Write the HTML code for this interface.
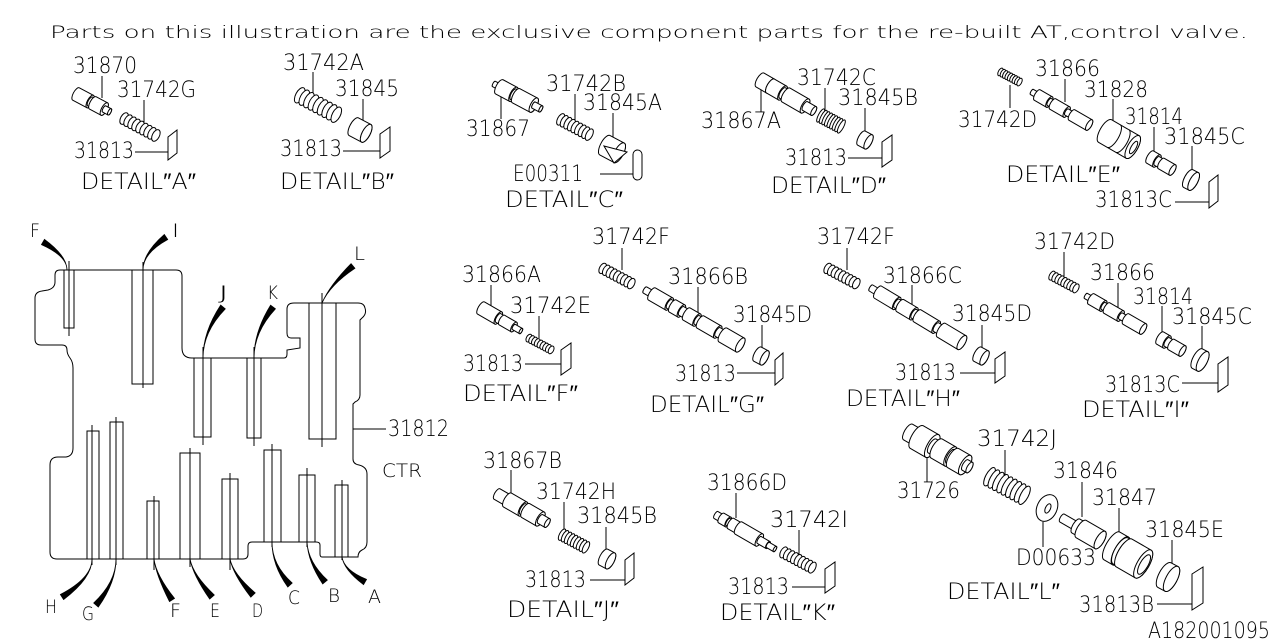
<!DOCTYPE html>
<html><head><meta charset="utf-8"><style>
html,body{margin:0;padding:0;background:#fff;}
svg{display:block;}
.p path,.p ellipse,.p rect{fill:#fff;stroke:#000;stroke-width:1;}
.ln{fill:none;stroke:#000;stroke-width:1;}
.t{font-family:"DejaVu Sans","Liberation Sans",sans-serif;font-weight:200;font-size:22px;fill:#000;}
.s{font-size:19px;}
.h{font-size:17px;}
.spr ellipse{fill:#fff;stroke:#000;stroke-width:1;vector-effect:non-scaling-stroke;}
</style></head><body>
<svg width="1280" height="640" viewBox="0 0 1280 640" xmlns="http://www.w3.org/2000/svg">
<defs>
<g id="spr" class="spr">
<ellipse cx="-18" cy="0" rx="3.5" ry="7"/><ellipse cx="-13.5" cy="0" rx="3.5" ry="7"/><ellipse cx="-9" cy="0" rx="3.5" ry="7"/><ellipse cx="-4.5" cy="0" rx="3.5" ry="7"/><ellipse cx="0" cy="0" rx="3.5" ry="7"/><ellipse cx="4.5" cy="0" rx="3.5" ry="7"/><ellipse cx="9" cy="0" rx="3.5" ry="7"/><ellipse cx="13.5" cy="0" rx="3.5" ry="7"/><ellipse cx="18" cy="0" rx="3.5" ry="7"/>
</g>
</defs>
<rect width="1280" height="640" fill="#fff"/>

<!-- header -->
<text class="t h" x="50" y="38" textLength="1198" lengthAdjust="spacingAndGlyphs">Parts on this illustration are the exclusive component parts for the re-built AT,control valve.</text>

<!-- ===== body ===== -->
<path class="ln" d="M60,270 L176,270 Q182,270 182,276 L182,348 Q182,358 192,358 L284,358 Q287,358 287,354 L287,350 L300,348 L300,338 L291,338 Q287,338 287,333 L287,309 Q287,303 294,303 L358,303 Q364,303 365,308 Q367,314 362,318 L360,320 L360,395 Q360,400 355,402 L353,404 L353,459 Q353,464 359,465 Q367,467 367,474 L367,542 Q367,548 362,550 Q358,552 358,557 L322,557 Q320,557 320,554 L320,545 Q320,542 316,542 L252,542 Q248,542 248,546 L248,554 Q248,559 243,559 L57,559 Q50,559 50,552 L50,465 Q50,457 58,457 L66,457 Q73,456 73,448 L73,368 Q73,362 70,358 Q67,354 67,350 Q67,345 62,345 L41,345 Q35,345 35,339 L35,298 Q35,292 42,291 L48,290 Q55,288 55,282 L55,275 Q55,270 60,270 Z"/>
<g class="ln">
<rect x="64" y="270" width="10" height="58"/><path d="M69,261V336"/>
<rect x="132" y="270" width="21" height="114"/><path d="M143,262V388"/>
<rect x="194" y="358" width="17" height="79"/><path d="M203,347V445"/>
<rect x="247" y="358" width="14" height="80"/><path d="M254,347V446"/>
<rect x="309" y="303" width="27" height="136"/><path d="M322,293V447"/>
<rect x="87" y="431" width="12" height="128"/><path d="M92,425V565"/>
<rect x="110" y="422" width="13" height="137"/><path d="M116,417V565"/>
<rect x="147" y="501" width="12" height="58"/><path d="M154,496V570"/>
<rect x="180" y="453" width="20" height="106"/><path d="M190,448V567"/>
<rect x="222" y="479" width="16" height="80"/><path d="M230,473V570"/>
<rect x="264" y="450" width="17" height="92"/><path d="M272,444V547"/>
<rect x="299" y="475" width="16" height="67"/><path d="M307,468V547"/>
<rect x="335" y="485" width="13" height="72"/><path d="M342,480V560"/>
<path d="M353,429H386"/>
</g>
<!-- wedges -->
<g fill="#000" stroke="#000" stroke-width="0.8">
<path d="M67,270 Q67,256 44.5,239.4 L41.5,244.6 Q67,256 67,270Z"/>
<path d="M143,270 Q143,253 167.7,239.5 L164.3,234.5 Q143,253 143,270Z"/>
<path d="M203,358 Q203,332 225.3,308.9 L220.7,305.1 Q203,332 203,358Z"/>
<path d="M254,358 Q254,332 275.4,308.8 L270.6,305.2 Q254,332 254,358Z"/>
<path d="M322,303 Q330,285 354.9,268.3 L351.1,263.7 Q330,285 322,303Z"/>
<path d="M92,559 Q92,578 63.6,599.5 L60.4,594.5 Q92,578 92,559Z"/>
<path d="M116,559 Q116,582 98.3,607 L93.7,603 Q116,582 116,559Z"/>
<path d="M154,559 Q156,575 174.5,598.4 L169.5,601.6 Q156,575 154,559Z"/>
<path d="M190,559 Q193,575 214.3,595 L209.7,599 Q193,575 190,559Z"/>
<path d="M230,559 Q233,574 255.2,592.9 L250.8,597.1 Q233,574 230,559Z"/>
<path d="M272,542 Q272,565 292.2,583 L287.8,587 Q272,565 272,542Z"/>
<path d="M307,542 Q308,562 327.3,580.1 L322.7,583.9 Q308,562 307,542Z"/>
<path d="M342,557 Q344,570 366.5,579.4 L363.5,584.6 Q344,570 342,557Z"/>
</g>
<g class="t s">
<text x="30" y="237" textLength="10" lengthAdjust="spacingAndGlyphs">F</text>
<text x="172" y="237" textLength="7" lengthAdjust="spacingAndGlyphs">I</text>
<text x="218" y="299" textLength="11" lengthAdjust="spacingAndGlyphs">J</text>
<text x="267" y="299" textLength="11" lengthAdjust="spacingAndGlyphs">K</text>
<text x="354" y="260" textLength="11" lengthAdjust="spacingAndGlyphs">L</text>
<text x="45" y="613" textLength="12" lengthAdjust="spacingAndGlyphs">H</text>
<text x="82" y="620" textLength="12" lengthAdjust="spacingAndGlyphs">G</text>
<text x="170" y="617" textLength="11" lengthAdjust="spacingAndGlyphs">F</text>
<text x="210" y="617" textLength="10" lengthAdjust="spacingAndGlyphs">E</text>
<text x="252" y="617" textLength="11" lengthAdjust="spacingAndGlyphs">D</text>
<text x="288" y="604" textLength="12" lengthAdjust="spacingAndGlyphs">C</text>
<text x="328" y="602" textLength="12" lengthAdjust="spacingAndGlyphs">B</text>
<text x="368" y="603" textLength="13" lengthAdjust="spacingAndGlyphs">A</text>
</g>
<text class="t" x="388" y="436" textLength="61" lengthAdjust="spacingAndGlyphs">31812</text>
<text class="t s" x="382" y="477" textLength="40" lengthAdjust="spacingAndGlyphs">CTR</text>

<!-- ===== leader lines & clips ===== -->
<g class="ln">
<path d="M102,76V98 M144,100V128 M313,72V97 M363,99V120 M575,94V123 M613,113V137 M501,88V119 M761,87V112 M825,88V112 M865,108V132 M1010,85V108 M1065,79V102 M1113,99V123 M1154,127V152 M1192,146V170 M491,285V308 M539,316V338 M622,248V270 M698,287V317 M762,325V350 M847,248V270 M912,285V313 M982,325V350 M1064,252V277 M1118,283V310 M1162,306V334 M1202,326V352 M511,470V495 M564,502V530 M606,527V552 M736,493V518 M799,530V556 M1005,450V475 M927,455V482 M1043,522V547 M1082,482V517 M1119,508V535 M1172,540V563"/>
<path d="M135,152H168 M343,151H380 M848,158H882 M1175,202H1209 M525,364H561 M737,373H775 M960,373H995 M1182,383H1218 M590,580H625 M792,587H825 M1157,604H1192 M600,174H633"/>
</g>
<g class="p">
<path d="M168,137 L177,130 L177,153 L168,160 Z"/>
<path d="M380,134 L390,127 L390,151 L380,158 Z"/>
<path d="M882,142 L892,135 L892,160 L882,167 Z"/>
<path d="M1209,182 L1218,175 L1218,201 L1209,208 Z"/>
<path d="M561,350 L571,343 L571,368 L561,375 Z"/>
<path d="M775,360 L783,353 L783,378 L775,385 Z"/>
<path d="M995,359 L1005,352 L1005,376 L995,383 Z"/>
<path d="M1218,364 L1228,357 L1228,385 L1218,392 Z"/>
<path d="M625,560 L634,553 L634,578 L625,585 Z"/>
<path d="M825,569 L835,562 L835,586 L825,593 Z"/>
<path d="M1192,574 L1203,567 L1203,603 L1192,610 Z"/>
<rect x="633" y="150" width="9" height="30" rx="4.5"/>
</g>

<!-- ===== springs ===== -->
<use href="#spr" transform="translate(140,127) rotate(28) scale(1,0.9)"/>
<use href="#spr" transform="translate(318,105) rotate(28) scale(1.15,1.2)"/>
<use href="#spr" transform="translate(575,127) rotate(28) scale(0.9,0.9)"/>
<use href="#spr" transform="translate(831,121) rotate(28) scale(0.65,1.05)"/>
<use href="#spr" transform="translate(1010,77) rotate(28) scale(0.6,0.6)"/>
<use href="#spr" transform="translate(540,344) rotate(28) scale(0.7,0.6)"/>
<use href="#spr" transform="translate(617,276) rotate(28) scale(0.9,0.8)"/>
<use href="#spr" transform="translate(842,276) rotate(28) scale(0.9,0.8)"/>
<use href="#spr" transform="translate(1064,282) rotate(28) scale(0.75,0.7)"/>
<use href="#spr" transform="translate(574,541) rotate(28) scale(0.75,0.9)"/>
<use href="#spr" transform="translate(798,560) rotate(28) scale(0.9,0.85)"/>
<use href="#spr" transform="translate(1007,486) rotate(28) scale(1.1,1.45)"/>

<!-- ===== spools / parts ===== -->
<g class="p">
<!-- A 31870 -->
<g transform="translate(76,94) rotate(28)">
<path d="M0-7H16A2.8 7 0 0 1 16 7H0A2.8 7 0 0 1 0-7Z"/><ellipse cx="16" rx="2.8" ry="7"/>
<path d="M16-5H19A2 5 0 0 1 19 5H16A2 5 0 0 1 16-5Z"/><ellipse cx="19" rx="2" ry="5"/>
<path d="M19-7H32A2.8 7 0 0 1 32 7H19A2.8 7 0 0 1 19-7Z"/><ellipse cx="32" rx="2.8" ry="7"/>
<path d="M32-3.5H38A1.4 3.5 0 0 1 38 3.5H32A1.4 3.5 0 0 1 32-3.5Z"/><ellipse cx="38" rx="1.4" ry="3.5"/>
</g>
<!-- B 31845 -->
<g transform="translate(360,130) rotate(28)">
<path d="M-7-10H7A4 10 0 0 1 7 10H-7A4 10 0 0 1-7-10Z"/><ellipse cx="7" rx="4" ry="10"/>
</g>
<!-- C 31867 -->
<g transform="translate(494,84) rotate(28)">
<path d="M0-3H6A1.2 3 0 0 1 6 3H0A1.2 3 0 0 1 0-3Z"/><ellipse cx="6" rx="1.2" ry="3"/>
<path d="M6-8H22A3.2 8 0 0 1 22 8H6A3.2 8 0 0 1 6-8Z"/><ellipse cx="22" rx="3.2" ry="8"/>
<path d="M22-6H25A2.4 6 0 0 1 25 6H22A2.4 6 0 0 1 22-6Z"/><ellipse cx="25" rx="2.4" ry="6"/>
<path d="M25-8H45A3.2 8 0 0 1 45 8H25A3.2 8 0 0 1 25-8Z"/><ellipse cx="45" rx="3.2" ry="8"/>
<path d="M45-3.5H53A1.4 3.5 0 0 1 53 3.5H45A1.4 3.5 0 0 1 45-3.5Z"/><ellipse cx="53" rx="1.4" ry="3.5"/>
</g>
<!-- C 31845A -->
<g transform="translate(612,149) rotate(28)">
<path d="M-8-11H8A4.4 11 0 0 1 8 11H-8A4.4 11 0 0 1-8-11Z"/><ellipse cx="8" rx="4.4" ry="11"/>
</g>
<path d="M604,146 L627,152 L614,163 Z"/>
<!-- D 31867A -->
<g transform="translate(760,80) rotate(30)">
<path d="M0-8H12A3.2 8 0 0 1 12 8H0A3.2 8 0 0 1 0-8Z"/><ellipse cx="12" rx="3.2" ry="8"/>
<path d="M12-8H26A3.2 8 0 0 1 26 8H12A3.2 8 0 0 1 12-8Z"/><ellipse cx="26" rx="3.2" ry="8"/>
<path d="M26-6H30A2.4 6 0 0 1 30 6H26A2.4 6 0 0 1 26-6Z"/><ellipse cx="30" rx="2.4" ry="6"/>
<path d="M30-8H52A3.2 8 0 0 1 52 8H30A3.2 8 0 0 1 30-8Z"/><ellipse cx="52" rx="3.2" ry="8"/>
<path d="M52-5H62A2 5 0 0 1 62 5H52A2 5 0 0 1 52-5Z"/><ellipse cx="62" rx="2" ry="5"/>
</g>
<!-- D 31845B -->
<g transform="translate(865,140) rotate(28)">
<path d="M-4-8H4A3.2 8 0 0 1 4 8H-4A3.2 8 0 0 1-4-8Z"/><ellipse cx="4" rx="3.2" ry="8"/>
</g>
<!-- E 31866 -->
<g transform="translate(1032,92) rotate(30)">
<path d="M0-3H6A1.2 3 0 0 1 6 3H0A1.2 3 0 0 1 0-3Z"/><ellipse cx="6" rx="1.2" ry="3"/>
<path d="M6-6H20A2.4 6 0 0 1 20 6H6A2.4 6 0 0 1 6-6Z"/><ellipse cx="20" rx="2.4" ry="6"/>
<path d="M20-4H24A1.6 4 0 0 1 24 4H20A1.6 4 0 0 1 20-4Z"/><ellipse cx="24" rx="1.6" ry="4"/>
<path d="M24-6H40A2.4 6 0 0 1 40 6H24A2.4 6 0 0 1 24-6Z"/><ellipse cx="40" rx="2.4" ry="6"/>
<path d="M40-3.5H46A1.4 3.5 0 0 1 46 3.5H40A1.4 3.5 0 0 1 40-3.5Z"/><ellipse cx="46" rx="1.4" ry="3.5"/>
<path d="M46-6H66A2.4 6 0 0 1 66 6H46A2.4 6 0 0 1 46-6Z"/><ellipse cx="66" rx="2.4" ry="6"/>
</g>
<!-- E 31828 -->
<g transform="translate(1105,131) rotate(30)">
<path d="M0-13H32A5 13 0 0 1 32 13H0A5 13 0 0 1 0-13Z"/><ellipse cx="32" rx="5" ry="13"/>
<path class="ln" d="M10-13A5 13 0 0 1 10 13 M20-13A5 13 0 0 1 20 13"/>
<ellipse cx="33" rx="2.5" ry="7"/>
</g>
<!-- E 31814 -->
<g transform="translate(1150,157) rotate(30)">
<path d="M0-7H8A2.8 7 0 0 1 8 7H0A2.8 7 0 0 1 0-7Z"/><ellipse cx="8" rx="2.8" ry="7"/>
<path d="M8-5H13A2 5 0 0 1 13 5H8A2 5 0 0 1 8-5Z"/><ellipse cx="13" rx="2" ry="5"/>
<path d="M13-6H26A2.4 6 0 0 1 26 6H13A2.4 6 0 0 1 13-6Z"/><ellipse cx="26" rx="2.4" ry="6"/>
</g>
<!-- E 31845C -->
<g transform="translate(1191,180) rotate(28)">
<path d="M-3-10H3A4 10 0 0 1 3 10H-3A4 10 0 0 1-3-10Z"/><ellipse cx="3" rx="4" ry="10"/>
</g>
<!-- F 31866A -->
<g transform="translate(481,308) rotate(30)">
<path d="M0-7H20A2.8 7 0 0 1 20 7H0A2.8 7 0 0 1 0-7Z"/><ellipse cx="20" rx="2.8" ry="7"/>
<path d="M20-5H24A2 5 0 0 1 24 5H20A2 5 0 0 1 20-5Z"/><ellipse cx="24" rx="2" ry="5"/>
<path d="M24-5.5H38A2.2 5.5 0 0 1 38 5.5H24A2.2 5.5 0 0 1 24-5.5Z"/><ellipse cx="38" rx="2.2" ry="5.5"/>
<path d="M38-3H46A1.2 3 0 0 1 46 3H38A1.2 3 0 0 1 38-3Z"/><ellipse cx="46" rx="1.2" ry="3"/>
</g>
<!-- G 31866B -->
<g transform="translate(645,290) rotate(30)">
<path d="M0-3.5H8A1.4 3.5 0 0 1 8 3.5H0A1.4 3.5 0 0 1 0-3.5Z"/><ellipse cx="8" rx="1.4" ry="3.5"/>
<path d="M8-7H28A2.8 7 0 0 1 28 7H8A2.8 7 0 0 1 8-7Z"/><ellipse cx="28" rx="2.8" ry="7"/>
<path d="M28-5H32A2 5 0 0 1 32 5H28A2 5 0 0 1 28-5Z"/><ellipse cx="32" rx="2" ry="5"/>
<path d="M32-7H42A2.8 7 0 0 1 42 7H32A2.8 7 0 0 1 32-7Z"/><ellipse cx="42" rx="2.8" ry="7"/>
<path d="M42-5H48A2 5 0 0 1 48 5H42A2 5 0 0 1 42-5Z"/><ellipse cx="48" rx="2" ry="5"/>
<path d="M48-7H60A2.8 7 0 0 1 60 7H48A2.8 7 0 0 1 48-7Z"/><ellipse cx="60" rx="2.8" ry="7"/>
<path d="M60-5H64A2 5 0 0 1 64 5H60A2 5 0 0 1 60-5Z"/><ellipse cx="64" rx="2" ry="5"/>
<path d="M64-7H84A2.8 7 0 0 1 84 7H64A2.8 7 0 0 1 64-7Z"/><ellipse cx="84" rx="2.8" ry="7"/>
<path d="M84-5H90A2 5 0 0 1 90 5H84A2 5 0 0 1 84-5Z"/><ellipse cx="90" rx="2" ry="5"/>
<path d="M90-8H110A3.2 8 0 0 1 110 8H90A3.2 8 0 0 1 90-8Z"/><ellipse cx="110" rx="3.2" ry="8"/>
</g>
<g transform="translate(761,356) rotate(28)">
<path d="M-4-8H4A3.2 8 0 0 1 4 8H-4A3.2 8 0 0 1-4-8Z"/><ellipse cx="4" rx="3.2" ry="8"/>
</g>
<!-- H 31866C -->
<g transform="translate(871,288) rotate(31)">
<path d="M0-3.5H8A1.4 3.5 0 0 1 8 3.5H0A1.4 3.5 0 0 1 0-3.5Z"/><ellipse cx="8" rx="1.4" ry="3.5"/>
<path d="M8-7H30A2.8 7 0 0 1 30 7H8A2.8 7 0 0 1 8-7Z"/><ellipse cx="30" rx="2.8" ry="7"/>
<path d="M30-5H34A2 5 0 0 1 34 5H30A2 5 0 0 1 30-5Z"/><ellipse cx="34" rx="2" ry="5"/>
<path d="M34-7H50A2.8 7 0 0 1 50 7H34A2.8 7 0 0 1 34-7Z"/><ellipse cx="50" rx="2.8" ry="7"/>
<path d="M50-5H54A2 5 0 0 1 54 5H50A2 5 0 0 1 50-5Z"/><ellipse cx="54" rx="2" ry="5"/>
<path d="M54-7H76A2.8 7 0 0 1 76 7H54A2.8 7 0 0 1 54-7Z"/><ellipse cx="76" rx="2.8" ry="7"/>
<path d="M76-5H82A2 5 0 0 1 82 5H76A2 5 0 0 1 76-5Z"/><ellipse cx="82" rx="2" ry="5"/>
<path d="M82-8H106A3.2 8 0 0 1 106 8H82A3.2 8 0 0 1 82-8Z"/><ellipse cx="106" rx="3.2" ry="8"/>
</g>
<g transform="translate(981,356) rotate(28)">
<path d="M-4-8H4A3.2 8 0 0 1 4 8H-4A3.2 8 0 0 1-4-8Z"/><ellipse cx="4" rx="3.2" ry="8"/>
</g>
<!-- I 31866 -->
<g transform="translate(1086,296) rotate(30)">
<path d="M0-3H6A1.2 3 0 0 1 6 3H0A1.2 3 0 0 1 0-3Z"/><ellipse cx="6" rx="1.2" ry="3"/>
<path d="M6-6H20A2.4 6 0 0 1 20 6H6A2.4 6 0 0 1 6-6Z"/><ellipse cx="20" rx="2.4" ry="6"/>
<path d="M20-4H24A1.6 4 0 0 1 24 4H20A1.6 4 0 0 1 20-4Z"/><ellipse cx="24" rx="1.6" ry="4"/>
<path d="M24-6H40A2.4 6 0 0 1 40 6H24A2.4 6 0 0 1 24-6Z"/><ellipse cx="40" rx="2.4" ry="6"/>
<path d="M40-3.5H46A1.4 3.5 0 0 1 46 3.5H40A1.4 3.5 0 0 1 40-3.5Z"/><ellipse cx="46" rx="1.4" ry="3.5"/>
<path d="M46-6H66A2.4 6 0 0 1 66 6H46A2.4 6 0 0 1 46-6Z"/><ellipse cx="66" rx="2.4" ry="6"/>
</g>
<g transform="translate(1160,338) rotate(30)">
<path d="M0-7H8A2.8 7 0 0 1 8 7H0A2.8 7 0 0 1 0-7Z"/><ellipse cx="8" rx="2.8" ry="7"/>
<path d="M8-5H13A2 5 0 0 1 13 5H8A2 5 0 0 1 8-5Z"/><ellipse cx="13" rx="2" ry="5"/>
<path d="M13-6H26A2.4 6 0 0 1 26 6H13A2.4 6 0 0 1 13-6Z"/><ellipse cx="26" rx="2.4" ry="6"/>
</g>
<g transform="translate(1200,360) rotate(28)">
<path d="M-3-11H3A4.4 11 0 0 1 3 11H-3A4.4 11 0 0 1-3-11Z"/><ellipse cx="3" rx="4.4" ry="11"/>
</g>
<!-- J 31867B -->
<g transform="translate(497,494) rotate(30)">
<path d="M0-6H12A2.4 6 0 0 1 12 6H0A2.4 6 0 0 1 0-6Z"/><ellipse cx="12" rx="2.4" ry="6"/>
<path d="M12-8H30A3.2 8 0 0 1 30 8H12A3.2 8 0 0 1 12-8Z"/><ellipse cx="30" rx="3.2" ry="8"/>
<path d="M30-6H33A2.4 6 0 0 1 33 6H30A2.4 6 0 0 1 30-6Z"/><ellipse cx="33" rx="2.4" ry="6"/>
<path d="M33-8H50A3.2 8 0 0 1 50 8H33A3.2 8 0 0 1 33-8Z"/><ellipse cx="50" rx="3.2" ry="8"/>
<path d="M50-5H58A2 5 0 0 1 58 5H50A2 5 0 0 1 50-5Z"/><ellipse cx="58" rx="2" ry="5"/>
</g>
<g transform="translate(607,559) rotate(28)">
<path d="M-4-9H4A3.6 9 0 0 1 4 9H-4A3.6 9 0 0 1-4-9Z"/><ellipse cx="4" rx="3.6" ry="9"/>
</g>
<!-- K 31866D -->
<g transform="translate(716,515) rotate(30)">
<path d="M0-4H6A1.6 4 0 0 1 6 4H0A1.6 4 0 0 1 0-4Z"/><ellipse cx="6" rx="1.6" ry="4"/>
<path d="M6-5.5H14A2.2 5.5 0 0 1 14 5.5H6A2.2 5.5 0 0 1 6-5.5Z"/><ellipse cx="14" rx="2.2" ry="5.5"/>
<path d="M14-4H17A1.6 4 0 0 1 17 4H14A1.6 4 0 0 1 14-4Z"/><ellipse cx="17" rx="1.6" ry="4"/>
<path d="M17-6H26A2.4 6 0 0 1 26 6H17A2.4 6 0 0 1 17-6Z"/><ellipse cx="26" rx="2.4" ry="6"/>
<path d="M26-7H50A2.8 7 0 0 1 50 7H26A2.8 7 0 0 1 26-7Z"/><ellipse cx="50" rx="2.8" ry="7"/>
<path d="M50-4H60A1.6 4 0 0 1 60 4H50A1.6 4 0 0 1 50-4Z"/><ellipse cx="60" rx="1.6" ry="4"/>
<path d="M60-3H68A1.2 3 0 0 1 68 3H60A1.2 3 0 0 1 60-3Z"/><ellipse cx="68" rx="1.2" ry="3"/>
</g>
<!-- L 31726 -->
<g transform="translate(908,432) rotate(30)">
<path d="M0-9H10A3.6 9 0 0 1 10 9H0A3.6 9 0 0 1 0-9Z"/><ellipse cx="10" rx="3.6" ry="9"/>
<path d="M10-13H28A5 13 0 0 1 28 13H10A5 13 0 0 1 10-13Z"/><ellipse cx="28" rx="5" ry="13"/>
<path d="M28-8H33A3.2 8 0 0 1 33 8H28A3.2 8 0 0 1 28-8Z"/><ellipse cx="33" rx="3.2" ry="8"/>
<path d="M33-11H49A4.4 11 0 0 1 49 11H33A4.4 11 0 0 1 33-11Z"/><ellipse cx="49" rx="4.4" ry="11"/>
<path d="M49-8H52A3.2 8 0 0 1 52 8H49A3.2 8 0 0 1 49-8Z"/><ellipse cx="52" rx="3.2" ry="8"/>
<path d="M52-11H66A4.4 11 0 0 1 66 11H52A4.4 11 0 0 1 52-11Z"/><ellipse cx="66" rx="4.4" ry="11"/>
<path d="M66-6H71A2.4 6 0 0 1 71 6H66A2.4 6 0 0 1 66-6Z"/><ellipse cx="71" rx="2.4" ry="6"/>
</g>
<!-- washer -->
<ellipse cx="1047" cy="508" rx="10" ry="14" transform="rotate(25 1047 508)"/>
<ellipse cx="1048" cy="508" rx="2.5" ry="5" transform="rotate(25 1047 508)"/>
<!-- 31846 -->
<g transform="translate(1062,518) rotate(30)">
<path d="M0-4.5H16A1.8 4.5 0 0 1 16 4.5H0A1.8 4.5 0 0 1 0-4.5Z"/><ellipse cx="16" rx="1.8" ry="4.5"/>
<path d="M16-8H22A3.2 8 0 0 1 22 8H16A3.2 8 0 0 1 16-8Z"/><ellipse cx="22" rx="3.2" ry="8"/>
<path d="M22-10H44A4 10 0 0 1 44 10H22A4 10 0 0 1 22-10Z"/><ellipse cx="44" rx="4" ry="10"/>
</g>
<!-- 31847 -->
<g transform="translate(1112,546) rotate(30)">
<path d="M0-16H10A6 16 0 0 1 10 16H0A6 16 0 0 1 0-16Z"/><ellipse cx="10" rx="6" ry="16"/>
<path d="M10-15H14A6 15 0 0 1 14 15H10A6 15 0 0 1 10-15Z"/><ellipse cx="14" rx="6" ry="15"/>
<path d="M14-16H36A6 16 0 0 1 36 16H14A6 16 0 0 1 14-16Z"/><ellipse cx="36" rx="6" ry="16"/>
<ellipse cx="37" rx="4" ry="11"/>
</g>
<g transform="translate(1168,577) rotate(28)">
<path d="M-4-14H4A5.6 14 0 0 1 4 14H-4A5.6 14 0 0 1-4-14Z"/><ellipse cx="4" rx="5.6" ry="14"/>
</g>
</g>

<!-- ===== labels ===== -->
<g class="t">
<text x="73" y="73" textLength="64" lengthAdjust="spacingAndGlyphs">31870</text>
<text x="117" y="97" textLength="79" lengthAdjust="spacingAndGlyphs">31742G</text>
<text x="74" y="158" textLength="60" lengthAdjust="spacingAndGlyphs">31813</text>
<text x="81" y="189" textLength="115" lengthAdjust="spacingAndGlyphs">DETAIL″A″</text>
<text x="283" y="70" textLength="81" lengthAdjust="spacingAndGlyphs">31742A</text>
<text x="335" y="96" textLength="64" lengthAdjust="spacingAndGlyphs">31845</text>
<text x="280" y="156" textLength="62" lengthAdjust="spacingAndGlyphs">31813</text>
<text x="280" y="189" textLength="114" lengthAdjust="spacingAndGlyphs">DETAIL″B″</text>
<text x="546" y="91" textLength="80" lengthAdjust="spacingAndGlyphs">31742B</text>
<text x="583" y="110" textLength="79" lengthAdjust="spacingAndGlyphs">31845A</text>
<text x="466" y="136" textLength="64" lengthAdjust="spacingAndGlyphs">31867</text>
<text x="513" y="181" textLength="70" lengthAdjust="spacingAndGlyphs">E00311</text>
<text x="505" y="207" textLength="118" lengthAdjust="spacingAndGlyphs">DETAIL″C″</text>
<text x="797" y="85" textLength="79" lengthAdjust="spacingAndGlyphs">31742C</text>
<text x="838" y="105" textLength="80" lengthAdjust="spacingAndGlyphs">31845B</text>
<text x="701" y="128" textLength="80" lengthAdjust="spacingAndGlyphs">31867A</text>
<text x="785" y="165" textLength="62" lengthAdjust="spacingAndGlyphs">31813</text>
<text x="771" y="193" textLength="115" lengthAdjust="spacingAndGlyphs">DETAIL″D″</text>
<text x="1035" y="76" textLength="65" lengthAdjust="spacingAndGlyphs">31866</text>
<text x="1084" y="97" textLength="64" lengthAdjust="spacingAndGlyphs">31828</text>
<text x="958" y="127" textLength="79" lengthAdjust="spacingAndGlyphs">31742D</text>
<text x="1125" y="124" textLength="58" lengthAdjust="spacingAndGlyphs">31814</text>
<text x="1164" y="144" textLength="81" lengthAdjust="spacingAndGlyphs">31845C</text>
<text x="1006" y="182" textLength="114" lengthAdjust="spacingAndGlyphs">DETAIL″E″</text>
<text x="1095" y="207" textLength="77" lengthAdjust="spacingAndGlyphs">31813C</text>
<text x="462" y="282" textLength="79" lengthAdjust="spacingAndGlyphs">31866A</text>
<text x="510" y="313" textLength="81" lengthAdjust="spacingAndGlyphs">31742E</text>
<text x="463" y="371" textLength="60" lengthAdjust="spacingAndGlyphs">31813</text>
<text x="463" y="401" textLength="115" lengthAdjust="spacingAndGlyphs">DETAIL″F″</text>
<text x="592" y="244" textLength="78" lengthAdjust="spacingAndGlyphs">31742F</text>
<text x="668" y="284" textLength="80" lengthAdjust="spacingAndGlyphs">31866B</text>
<text x="733" y="322" textLength="79" lengthAdjust="spacingAndGlyphs">31845D</text>
<text x="675" y="381" textLength="61" lengthAdjust="spacingAndGlyphs">31813</text>
<text x="650" y="412" textLength="114" lengthAdjust="spacingAndGlyphs">DETAIL″G″</text>
<text x="817" y="244" textLength="78" lengthAdjust="spacingAndGlyphs">31742F</text>
<text x="883" y="283" textLength="79" lengthAdjust="spacingAndGlyphs">31866C</text>
<text x="952" y="321" textLength="80" lengthAdjust="spacingAndGlyphs">31845D</text>
<text x="895" y="380" textLength="61" lengthAdjust="spacingAndGlyphs">31813</text>
<text x="846" y="406" textLength="114" lengthAdjust="spacingAndGlyphs">DETAIL″H″</text>
<text x="1034" y="249" textLength="81" lengthAdjust="spacingAndGlyphs">31742D</text>
<text x="1090" y="280" textLength="65" lengthAdjust="spacingAndGlyphs">31866</text>
<text x="1133" y="304" textLength="60" lengthAdjust="spacingAndGlyphs">31814</text>
<text x="1172" y="324" textLength="80" lengthAdjust="spacingAndGlyphs">31845C</text>
<text x="1105" y="392" textLength="75" lengthAdjust="spacingAndGlyphs">31813C</text>
<text x="1082" y="417" textLength="107" lengthAdjust="spacingAndGlyphs">DETAIL″I″</text>
<text x="483" y="468" textLength="79" lengthAdjust="spacingAndGlyphs">31867B</text>
<text x="536" y="499" textLength="80" lengthAdjust="spacingAndGlyphs">31742H</text>
<text x="577" y="523" textLength="80" lengthAdjust="spacingAndGlyphs">31845B</text>
<text x="525" y="587" textLength="61" lengthAdjust="spacingAndGlyphs">31813</text>
<text x="507" y="617" textLength="112" lengthAdjust="spacingAndGlyphs">DETAIL″J″</text>
<text x="707" y="490" textLength="80" lengthAdjust="spacingAndGlyphs">31866D</text>
<text x="770" y="527" textLength="78" lengthAdjust="spacingAndGlyphs">31742I</text>
<text x="728" y="594" textLength="61" lengthAdjust="spacingAndGlyphs">31813</text>
<text x="720" y="620" textLength="115" lengthAdjust="spacingAndGlyphs">DETAIL″K″</text>
<text x="977" y="446" textLength="80" lengthAdjust="spacingAndGlyphs">31742J</text>
<text x="897" y="498" textLength="63" lengthAdjust="spacingAndGlyphs">31726</text>
<text x="1053" y="478" textLength="65" lengthAdjust="spacingAndGlyphs">31846</text>
<text x="1092" y="505" textLength="65" lengthAdjust="spacingAndGlyphs">31847</text>
<text x="1145" y="537" textLength="79" lengthAdjust="spacingAndGlyphs">31845E</text>
<text x="1016" y="565" textLength="80" lengthAdjust="spacingAndGlyphs">D00633</text>
<text x="947" y="599" textLength="113" lengthAdjust="spacingAndGlyphs">DETAIL″L″</text>
<text x="1079" y="612" textLength="75" lengthAdjust="spacingAndGlyphs">31813B</text>
<text x="1148" y="638" textLength="122" lengthAdjust="spacingAndGlyphs">A182001095</text>
</g>
</svg>
</body></html>
